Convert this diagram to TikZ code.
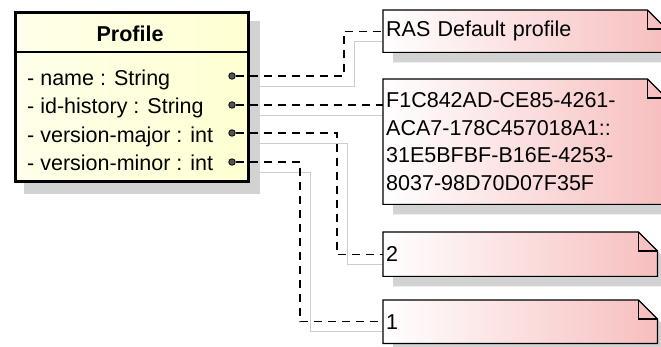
\documentclass[tikz,border=0pt]{standalone}
\usepackage{fontspec}
\setmainfont{Liberation Sans}
\definecolor{ClassYellow}{RGB}{255,255,210}
\definecolor{ClassLight}{RGB}{255,255,234}
\definecolor{NotePink}{RGB}{247,190,190}
\definecolor{ShadowGray}{RGB}{210,210,210}
\definecolor{LinkGray}{RGB}{205,205,205}
\definecolor{DotGray}{RGB}{85,85,85}
\usetikzlibrary{positioning,calc,backgrounds}

\begin{document}
\begin{tikzpicture}[x=1pt,y=-1pt,
  every node/.style={font=\fontsize{21.5}{27.7}\selectfont},
  attr/.style={anchor=base west,inner sep=0pt},
  note/.style={anchor=north west,inner sep=3pt,align=left},
  notepath/.style={insert path={(#1.north west) -- ([xshift=-19pt]#1.north east)
    -- ([yshift=-19pt]#1.north east) -- (#1.south east) -- (#1.south west) -- cycle}},
  conn/.style={line width=1.3pt,dash pattern=on 8pt off 6pt},
  connshadow/.style={LinkGray,line width=0.8pt},
  dot/.style={circle,draw,fill=DotGray,inner sep=0pt,minimum size=6.5pt,line width=0.8pt}]
\useasboundingbox (0,0) rectangle (661,347);

% class Profile
\node[draw,line width=3pt,left color=ClassLight,right color=ClassYellow,
  minimum width=233pt,minimum height=169pt,anchor=north west] (profile) at (13.5,11.5) {};
\draw[line width=1.2pt] (13.5,52) -- (246.5,52);
\node[font=\fontsize{21.5}{25}\selectfont\bfseries] (title) at (130,34) {Profile};
\node[attr] (name) at (27,86) {- name : String};
\node[attr] (idhist) at (27,114) {- id-history : String};
\node[attr] (vmajor) at (27,142.5) {- version-major : int};
\node[attr] (vminor) at (27,171) {- version-minor : int};
\node[dot] (d1) at (232,76) {};
\node[dot] (d2) at (232,105) {};
\node[dot] (d3) at (232,133) {};
\node[dot] (d4) at (232,162) {};

% notes
\node[note,text width=277pt,minimum height=42pt] (n1) at (383,10) {RAS Default profile};
\node[note,text width=277pt,minimum height=125pt] (n2) at (383,79)
  {F1C842AD-CE85-4261-\\ACA7-178C457018A1::\\31E5BFBF-B16E-4253-\\8037-98D70D07F35F};
\node[note,text width=268pt,minimum height=44pt] (n3) at (383,232) {2};
\node[note,text width=268pt,minimum height=43pt] (n4) at (383,300) {1};

% bends
\coordinate (k1) at (344,0);
\coordinate (k3) at (337,0);
\coordinate (k4) at (300,0);

\begin{scope}[on background layer]
  \begin{scope}[transform canvas={xshift=10pt,yshift=-10pt}]
    \draw[connshadow] (d1) -| (k1 |- n1.west) -- (n1.west);
    \draw[connshadow] (d2) -- (d2 -| n2.west);
    \draw[connshadow] (d3) -| (k3 |- n3.west) -- (n3.west);
    \draw[connshadow] (d4) -| (k4 |- n4.west) -- (n4.west);
  \end{scope}
  \fill[ShadowGray] ([shift={(10pt,-10pt)}]profile.north west)
    rectangle ([shift={(10pt,-11pt)}]profile.south east);
  \foreach \n in {n1,n2,n3,n4} {
    \begin{scope}[transform canvas={xshift=10pt,yshift=-10pt}]
      \fill[ShadowGray,notepath=\n];
    \end{scope}
    \path[draw,line width=1.2pt,left color=white,right color=NotePink,notepath=\n];
    \draw[line width=1.2pt] ([xshift=-19pt]\n.north east) |- ([yshift=-19pt]\n.north east);
  }
\end{scope}

% links
\draw[conn] (d1) -| (k1 |- n1.west) -- (n1.west);
\draw[conn] (d2) -- (d2 -| n2.west);
\draw[conn] (d3) -| (k3 |- n3.west) -- (n3.west);
\draw[conn] (d4) -| (k4 |- n4.west) -- (n4.west);
\end{tikzpicture}
\end{document}
